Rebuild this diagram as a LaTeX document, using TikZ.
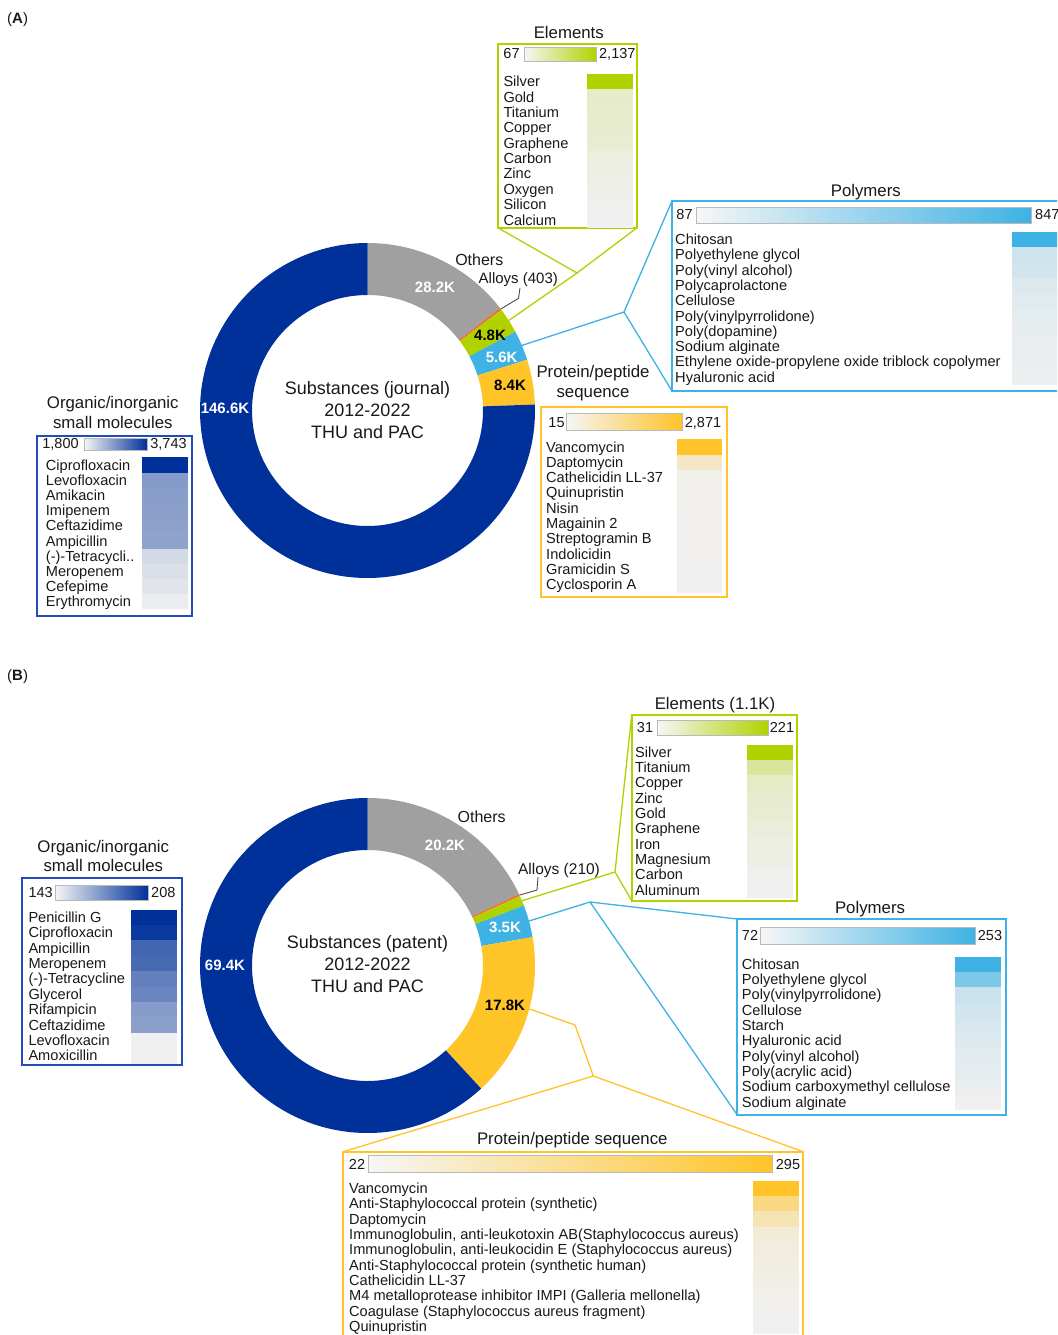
\documentclass[tikz,border=0pt]{standalone}
\usepackage{fontspec}
\setmainfont{Liberation Sans}
\usetikzlibrary{calc}
\definecolor{navy}{RGB}{0,48,153}
\definecolor{navyf}{RGB}{35,75,185}
\definecolor{grayseg}{RGB}{160,160,160}
\definecolor{alloy}{RGB}{240,110,50}
\definecolor{lime}{RGB}{178,210,0}
\definecolor{sky}{RGB}{62,178,228}
\definecolor{gold}{RGB}{255,196,40}
\definecolor{txt}{RGB}{25,25,25}
\definecolor{pale}{RGB}{240,240,240}
\definecolor{palew}{RGB}{246,246,246}
\tikzset{
 item/.style={anchor=base west, inner sep=0pt, yshift=-5pt, text=txt, font=\fontsize{14.6}{15}\selectfont},
 num/.style={anchor=base, inner sep=0pt, yshift=-5.2pt, text=txt, font=\fontsize{14.5}{16}\selectfont},
 ttl/.style={anchor=base, inner sep=0pt, yshift=-5.9pt, text=txt, font=\fontsize{16.8}{18}\selectfont},
 ctr/.style={anchor=base, inner sep=0pt, yshift=-6.5pt, text=txt, font=\fontsize{18}{20}\selectfont},
 seglab/.style={anchor=base, inner sep=0pt, yshift=-5.4pt, font=\bfseries\fontsize{15}{16}\selectfont},
 legbox/.style={draw=#1, line width=1.8pt, inner sep=0pt, outer sep=0pt, anchor=north west},
 sbar/.style={draw=gray!55, line width=0.8pt, inner sep=0pt, outer sep=0pt, anchor=north west},
 conn/.style={draw=#1, line width=1.3pt},
 leader/.style={draw=black!70, line width=0.9pt},
}
% #1 prefix, #2 text x, #3 first row centre y, #4 row step, #5 bar x1, #6 bar x2, #7 colour, #8 items
\newcommand{\mklist}[8]{%
 \foreach \t/\p [count=\i from 0] in {#8} {%
   \fill[#7!\p!pale] (#5,{-(#3+(\i-0.5)*#4)}) rectangle (#6,{-(#3+(\i+0.5)*#4)});
   \node[item] (#1\i) at (#2,{-(#3+\i*#4)}) {\t};
 }}
% #1 colour, #2 centre, #3 start angle, #4 end angle
\newcommand{\mkseg}[4]{%
 \fill[#1] ($(#2)+(#3:167.5pt)$) arc[start angle=#3, end angle=#4, radius=167.5pt]
   -- ($(#2)+(#4:115.5pt)$) arc[start angle=#4, end angle=#3, radius=115.5pt] -- cycle;}
\begin{document}
\begin{tikzpicture}[x=1pt,y=1pt]
\useasboundingbox (0,0) rectangle (1057,-1335);
\fill[white] (0,0) rectangle (1057,-1335);
\clip (0,0) rectangle (1057,-1335);

% ================= PANEL A =================
\node[anchor=west, inner sep=0pt, text=txt, font=\fontsize{15}{16}\selectfont] (panA) at (7,-20) {(\textbf{A})};
\coordinate (cA) at (367.5,-410.5);
\coordinate (sEA) at ($(cA)+(32.5:167.5pt)$);
\coordinate (sAA) at ($(cA)+(37.3:167.5pt)$);
\coordinate (sPA) at ($(cA)+(22.85:167.5pt)$);
\coordinate (jEA) at (577,-273);
\coordinate (jPA) at (624,-312);
\coordinate (lA1) at (520,-288);
\coordinate (lA2) at (518.5,-298.3);

% boxes A
\node[legbox=lime, minimum width=138.4pt, minimum height=184pt] (boxEA) at (498.3,-44) {};
\node[legbox=sky, minimum width=400pt, minimum height=190pt] (boxPA) at (672,-201) {};
\node[legbox=navyf, minimum width=155.6pt, minimum height=180pt] (boxOA) at (36.7,-436) {};
\node[legbox=gold, minimum width=186pt, minimum height=190pt] (boxPrA) at (541,-407) {};

% connectors A
\draw[conn=lime] (sEA) -- (jEA) -- (boxEA.south west);
\draw[conn=lime] (jEA) -- (boxEA.south east);
\draw[conn=sky] (sPA) -- (jPA) -- (boxPA.north west);
\draw[conn=sky] (jPA) -- (boxPA.south west);
\draw[leader] (lA1) -- (lA2) -- (sAA);

% donut A
\mkseg{grayseg}{cA}{90}{37.7}
\mkseg{alloy}{cA}{37.7}{36.95}
\mkseg{lime}{cA}{36.95}{28.05}
\mkseg{sky}{cA}{28.05}{17.65}
\mkseg{gold}{cA}{17.65}{2.05}
\mkseg{navy}{cA}{2.05}{-270}

\node[seglab, text=white] (vA1) at (435,-287.3) {28.2K};
\node[seglab, text=black] (vA2) at (490,-335) {4.8K};
\node[seglab, text=white] (vA3) at (501.7,-356.7) {5.6K};
\node[seglab, text=black] (vA4) at (510,-385) {8.4K};
\node[seglab, text=white] (vA5) at (225,-407.7) {146.6K};
\node[ctr] (ctA1) at (367.5,-388.3) {Substances (journal)};
\node[ctr] (ctA2) at (367.5,-410) {2012-2022};
\node[ctr] (ctA3) at (367.5,-431.7) {THU and PAC};
\node[ttl, font=\fontsize{16}{18}\selectfont] (othA) at (479.3,-260) {Others};
\node[ttl, font=\fontsize{15}{18}\selectfont] (alA) at (518.3,-277.7) {Alloys (403)};

% titles A
\node[ttl] (tEA) at (568.8,-32.7) {Elements};
\node[ttl] (tPA) at (865.8,-190.7) {Polymers};
\node[ttl] (tOA1) at (112.8,-403) {Organic/inorganic};
\node[ttl] (tOA2) at (112.8,-423) {small molecules};
\node[ttl] (tPrA1) at (593,-372) {Protein/peptide};
\node[ttl] (tPrA2) at (593,-392) {sequence};

% scales A
\node[num] (loEA) at (511.5,-53.3) {67};
\node[sbar, left color=palew, right color=lime, minimum width=71.7pt, minimum height=14.4pt] (barEA) at (524.3,-47.3) {};
\node[num] (hiEA) at (617.3,-53.3) {2,137};
\node[num] (loPA) at (684.5,-214) {87};
\node[sbar, left color=palew, right color=sky, minimum width=335pt, minimum height=16pt] (barPA) at (696,-207) {};
\node[num, anchor=base west] (hiPA) at (1035,-214) {847};
\node[num] (loOA) at (60.5,-443.5) {1,800};
\node[sbar, left color=palew, right color=navy, minimum width=63pt, minimum height=12pt] (barOA) at (84,-438) {};
\node[num] (hiOA) at (168.5,-443.5) {3,743};
\node[num] (loPrA) at (556.5,-422) {15};
\node[sbar, left color=palew, right color=gold, minimum width=116pt, minimum height=17pt] (barPrA) at (566,-413) {};
\node[num] (hiPrA) at (703,-422) {2,871};

% lists A
\mklist{ea}{503.3}{81.7}{15.37}{587.3}{633.3}{lime}{Silver/100, Gold/16, Titanium/15, Copper/14, Graphene/12, Carbon/7, Zinc/5, Oxygen/3, Silicon/2, Calcium/0}
\mklist{pa}{675}{239.5}{15.3}{1011.7}{1070}{sky}{Chitosan/100, Polyethylene glycol/20, Poly(vinyl alcohol)/17, Polycaprolactone/12, Cellulose/9, Poly(vinylpyrrolidone)/7, Poly(dopamine)/5, Sodium alginate/4, Ethylene oxide-propylene oxide triblock copolymer/3, Hyaluronic acid/2}
\mklist{oa}{45.7}{465}{15.2}{141.7}{188.3}{navy}{Ciprofloxacin/100, Levofloxacin/45, Amikacin/43, Imipenem/42, Ceftazidime/41, Ampicillin/40, (-)-Tetracycli../12, Meropenem/9, Cefepime/6, Erythromycin/2}
\mklist{pra}{546}{447}{15.33}{677}{722}{gold}{Vancomycin/100, Daptomycin/20, Cathelicidin LL-37/3, Quinupristin/2, Nisin/2, Magainin 2/1, Streptogramin B/1, Indolicidin/1, Gramicidin S/0, Cyclosporin A/0}

% ================= PANEL B =================
\node[anchor=west, inner sep=0pt, text=txt, font=\fontsize{15}{16}\selectfont] (panB) at (7,-677) {(\textbf{B})};
\coordinate (cB) at (367.5,-965.5);
\coordinate (sEB) at ($(cB)+(22.75:167.5pt)$);
\coordinate (sAB) at ($(cB)+(24.85:167.5pt)$);
\coordinate (sPB) at ($(cB)+(15.4:167.5pt)$);
\coordinate (sPrB) at ($(cB)+(-15:167.5pt)$);
\coordinate (jEB) at (615,-872);
\coordinate (jPB) at (590,-902);
\coordinate (kPrB) at (575,-1025);
\coordinate (jPrB) at (593.3,-1076);
\coordinate (lB1) at (538,-877);
\coordinate (lB2) at (537,-890);

% boxes B
\node[legbox=lime, minimum width=165pt, minimum height=185.7pt] (boxEB) at (631.7,-715) {};
\node[legbox=sky, minimum width=268.4pt, minimum height=196pt] (boxPB) at (737.3,-919) {};
\node[legbox=navyf, minimum width=159.4pt, minimum height=186.7pt] (boxOB) at (22.3,-878.3) {};
\node[legbox=gold, minimum width=460pt, minimum height=200pt] (boxPrB) at (343.3,-1151.7) {};

% connectors B
\draw[conn=lime] (sEB) -- (jEB) -- (boxEB.north west);
\draw[conn=lime] (jEB) -- (boxEB.south west);
\draw[conn=sky] (sPB) -- (jPB) -- (boxPB.north west);
\draw[conn=sky] (jPB) -- (boxPB.south west);
\draw[conn=gold] (sPrB) -- (kPrB) -- (jPrB) -- (boxPrB.north west);
\draw[conn=gold] (jPrB) -- (boxPrB.north east);
\draw[leader] (lB1) -- (lB2) -- (sAB);

% donut B
\mkseg{grayseg}{cB}{90}{25.2}
\mkseg{alloy}{cB}{25.2}{24.5}
\mkseg{lime}{cB}{24.5}{21.0}
\mkseg{sky}{cB}{21.0}{9.75}
\mkseg{gold}{cB}{9.75}{-47.3}
\mkseg{navy}{cB}{-47.3}{-270}

\node[seglab, text=white] (vB1) at (445,-845) {20.2K};
\node[seglab, text=white] (vB2) at (505,-926.7) {3.5K};
\node[seglab, text=black] (vB3) at (505,-1005) {17.8K};
\node[seglab, text=white] (vB4) at (225,-965) {69.4K};
\node[ctr] (ctB1) at (367.5,-942.3) {Substances (patent)};
\node[ctr] (ctB2) at (367.5,-964) {2012-2022};
\node[ctr] (ctB3) at (367.5,-986) {THU and PAC};
\node[ttl, font=\fontsize{16}{18}\selectfont] (othB) at (481.7,-816.7) {Others};
\node[ttl, font=\fontsize{15.5}{18}\selectfont] (alB) at (559,-868.3) {Alloys (210)};

% titles B
\node[ttl] (tEB) at (715,-703.3) {Elements (1.1K)};
\node[ttl] (tPB) at (870,-907.7) {Polymers};
\node[ttl] (tOB1) at (103.3,-846.7) {Organic/inorganic};
\node[ttl] (tOB2) at (103.3,-866) {small molecules};
\node[ttl] (tPrB) at (572.3,-1138.3) {Protein/peptide sequence};

% scales B
\node[num] (loEB) at (645,-727.3) {31};
\node[sbar, left color=palew, right color=lime, minimum width=111pt, minimum height=15pt] (barEB) at (657.3,-720) {};
\node[num] (hiEB) at (782,-727.3) {221};
\node[num] (loPB) at (750,-935.7) {72};
\node[sbar, left color=palew, right color=sky, minimum width=214.3pt, minimum height=16.7pt] (barPB) at (760.7,-927.3) {};
\node[num] (hiPB) at (990,-935.7) {253};
\node[num] (loOB) at (40.7,-892.3) {143};
\node[sbar, left color=palew, right color=navy, minimum width=93.3pt, minimum height=15pt] (barOB) at (55,-885) {};
\node[num] (hiOB) at (163.3,-892.3) {208};
\node[num] (loPrB) at (357,-1164.3) {22};
\node[sbar, left color=palew, right color=gold, minimum width=404pt, minimum height=16.6pt] (barPrB) at (368.3,-1155.7) {};
\node[num] (hiPrB) at (788,-1164.3) {295};

% lists B
\mklist{eb}{635}{752.3}{15.3}{747.3}{793.3}{lime}{Silver/100, Titanium/35, Copper/18, Zinc/14, Gold/12, Graphene/9, Iron/7, Magnesium/4, Carbon/2, Aluminum/0}
\mklist{pb}{741.7}{964.3}{15.33}{955}{1001}{sky}{Chitosan/100, Polyethylene glycol/65, Poly(vinylpyrrolidone)/22, Cellulose/18, Starch/14, Hyaluronic acid/11, Poly(vinyl alcohol)/8, Poly(acrylic acid)/6, Sodium carboxymethyl cellulose/3, Sodium alginate/0}
\mklist{ob}{28.3}{917.3}{15.4}{131}{176.7}{navy}{Penicillin G/100, Ciprofloxacin/96, Ampicillin/72, Meropenem/70, (-)-Tetracycline/58, Glycerol/56, Rifampicin/44, Ceftazidime/42, Levofloxacin/0, Amoxicillin/0}
\mklist{prb}{349}{1188.3}{15.37}{753.3}{799}{gold}{Vancomycin/100, Anti-Staphylococcal protein (synthetic)/55, Daptomycin/30, Immunoglobulin{,} anti-leukotoxin AB(Staphylococcus aureus)/12, Immunoglobulin{,} anti-leukocidin E (Staphylococcus aureus)/9, Anti-Staphylococcal protein (synthetic human)/7, Cathelicidin LL-37/5, M4 metalloprotease inhibitor IMPI (Galleria mellonella)/3, Coagulase (Staphylococcus aureus fragment)/2, Quinupristin/0}
\end{tikzpicture}
\end{document}
